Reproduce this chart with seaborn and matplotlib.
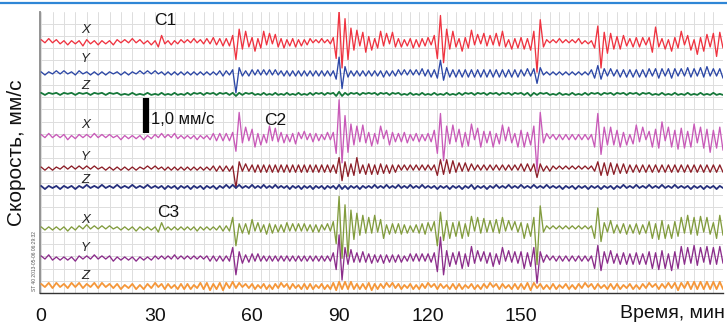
import numpy as np
import pandas as pd
import matplotlib
matplotlib.use("Agg")
import matplotlib.pyplot as plt
from matplotlib.ticker import MultipleLocator, NullFormatter
from matplotlib.lines import Line2D
import seaborn as sns

sns.set_style("white")
plt.rcParams["font.family"] = ["Liberation Sans", "DejaVu Sans"]

# амплитуды колебаний, одно значение на минуту (0..213 мин),
# код base-36, единица = 0.03 мм/с, знак чередуется от минуты к минуте
c1_x = "".join([
    "2131221312", "1422131213", "2121312213", "1562131221", "2131223243",
    "34346hc7a5", "4936a38275", "3624352423", "312131224g", "upmhd8b49a",
    "5836a48295", "3524362534", "436gpkc7a5", "3946b37284", "6384a52736",
    "4738atl521", "2131212132", "1216fp9b87", "5764354543", "4ae5372946",
    "a3682c4975", "8e96"])
c1_y = "".join([
    "1211212112", "2112121211", "1212112121", "2112121212", "1212121212",
    "23223j5323", "3232323232", "2323232323", "2323232326", "ff64232323",
    "2323242323", "3232323243", "3435c75434", "3434343434", "3434343434",
    "33434a5212", "1212121212", "1235764343", "3434343434", "4345434543",
    "4354435463", "4345"])
c1_z = "".join([
    "1110111011", "1011101110", "1101110111", "0111011101", "1110111011",
    "1011121110", "1101110111", "0111011101", "1110111012", "2211101110",
    "1011101110", "1101110111", "0111011101", "1110111011", "1011101110",
    "1112111011", "0111011101", "1110111011", "1011101110", "1101110111",
    "0111011101", "1101"])
c2_x = "".join([
    "2131212312", "2121312121", "1312121312", "2131213212", "1213121334",
    "34344en694", "7a3826a485", "4625374253", "353423434g", "zpkfc8a5b6",
    "4937a26845", "3546243524", "356gmna7b5", "7a49c38a56", "5a37b4963a",
    "6a48axn632", "2323232323", "232amh9898", "6a4827b593", "5a7be49a6c",
    "8b5ac69b7f", "6b9d"])
c2_y = "".join([
    "1212112121", "2121211212", "1212121121", "2112121212", "1212121223",
    "23232j6343", "3434343434", "3434343434", "3434343435", "ac6847a536",
    "4636453534", "3232323232", "3237868574", "5353423232", "3232323232",
    "4343494323", "2121212121", "2123675756", "4545343434", "3434343434",
    "3434343434", "3434"])
c2_z = "".join([
    "1211121112", "1121112111", "2111211121", "1112111211", "1211121112",
    "1121212111", "2111211121", "1112111211", "1211121112", "2212111211",
    "1121112111", "2111211121", "1112111211", "1211221112", "1121112111",
    "2111211121", "1112111211", "1211121112", "1121112111", "2111211121",
    "1112111211", "1211"])
c3_x = "".join([
    "1212121312", "2131212121", "1212131212", "1452121212", "1213121212",
    "2323ah4546", "8354364534", "3453434343", "343432436f", "utmrhbe7c5",
    "a5c48a3645", "4635243546", "536hfc7a58", "6a48b3a594", "7485a37264",
    "5a48azl421", "2121212121", "212ajd5475", "3546354635", "6a4b7a3a68",
    "a5c6a7b4a6", "5ac7"])
c3_y = "".join([
    "2132121213", "2121312123", "1212131212", "2121213121", "2121212323",
    "2323ag6534", "4343232323", "2323232323", "232323235b", "mla6845464",
    "4534353434", "3423434343", "445dkg7856", "6a48b57365", "5846a37465",
    "6a58ao6432", "2323232323", "232acc6575", "4656465646", "6a5b7a4c6a",
    "b6a5c7a4b6", "a6b5"])
c3_z = "".join([
    "2132312231", "3221323122", "2312231322", "3123221323", "2312333423",
    "3432423122", "2312231322", "3123221323", "2312231334", "4343432323",
    "3423223132", "2312231322", "3123221323", "2312231322", "3123221323",
    "2334322313", "2312231322", "3123221323", "2312231322", "3123223234",
    "3243434343", "4343"])

traces = [c1_x, c1_y, c1_z, c2_x, c2_y, c2_z, c3_x, c3_y, c3_z]
names = ["C1 X", "C1 Y", "C1 Z", "C2 X", "C2 Y", "C2 Z", "C3 X", "C3 Y", "C3 Z"]
components = ["X", "Y", "Z"] * 3
baselines = [7.18, 6.29, 5.69, 4.47, 3.57, 3.03, 1.86, 1.00, 0.20]
label_y = [7.51, 6.69, 5.91, 4.80, 3.89, 3.23, 2.09, 1.29, 0.49]
colors = ["#ef3340", "#2c47a6", "#16783a", "#c85ab8", "#8c1f28",
          "#26307c", "#829c3e", "#8b2d8b", "#f5973a"]
amp_unit = 0.03  # мм/с

tick_minutes = [0, 30, 60, 90, 120, 150, 180]
tick_labels = ["0", "30", "60", "90", "120", "150", ""]

frames = []
for name, codes, base in zip(names, traces, baselines):
    amp = np.array([int(c, 36) for c in codes]) * amp_unit
    t = np.arange(len(codes))
    sign = np.where(t % 2 == 0, 1.0, -1.0)
    frames.append(pd.DataFrame({"t": t, "v": base + sign * amp, "trace": name}))
df = pd.concat(frames, ignore_index=True)

# шкала времени на оригинале неравномерная
knots_min = [-20, 0, 30, 60, 90, 120, 150, 180, 213, 260]
knots_px = [-35, 41, 155, 252, 339, 428, 521, 617, 723, 873]

def fwd(x):
    return np.interp(x, knots_min, knots_px)

def inv(p):
    return np.interp(p, knots_px, knots_min)

fig = plt.figure(figsize=(7.27, 3.25), dpi=100)
ax = fig.add_axes([40 / 727, 32 / 325, 683 / 727, 281 / 325])
ax.set_xscale("function", functions=(fwd, inv))

for name, col, comp in zip(names, colors, components):
    lw = 1.3 if comp == "Z" else 0.95
    sns.lineplot(data=df[df["trace"] == name], x="t", y="v", color=col,
                 linewidth=lw, estimator=None, sort=False, ax=ax, zorder=3)

ax.set_xlim(-0.3, 213)
ax.set_ylim(0, 8.03)

ax.set_xticks(tick_minutes, labels=tick_labels)
ax.xaxis.set_minor_locator(MultipleLocator(3))
ax.xaxis.set_minor_formatter(NullFormatter())
ax.yaxis.set_major_locator(MultipleLocator(0.35))
ax.set_yticklabels([])
ax.tick_params(axis="y", length=0)
ax.tick_params(axis="x", which="major", direction="out", length=9, width=1.8,
               color="#222222", labelsize=14, pad=2, labelcolor="#111111")
ax.tick_params(axis="x", which="minor", direction="out", length=3, width=0.8,
               color="#444444")
ax.grid(True, which="both", color="#dddddd", linewidth=0.7, zorder=0)
ax.grid(False, which="minor", axis="y")

for side in ["top", "right"]:
    ax.spines[side].set_visible(False)
ax.spines["left"].set_color("#8a8a8a")
ax.spines["left"].set_linewidth(1.3)
ax.spines["bottom"].set_color("#333333")
ax.spines["bottom"].set_linewidth(1.0)

ax.set_xlabel("")
ax.set_ylabel("Скорость, мм/с", fontsize=15, color="#111111")
ax.yaxis.set_label_coords(-0.02, 0.5)

for comp, ly in zip(components, label_y):
    ax.text(11.6, ly, comp, fontsize=9.5, style="italic", color="#222222",
            ha="center", va="center", zorder=4)

ax.text(33.1, 7.8, "C1", fontsize=12.5, color="#111111", ha="center", va="center")
ax.text(67.9, 4.94, "C2", fontsize=12.5, color="#111111", ha="center", va="center")
ax.text(34.0, 2.29, "C3", fontsize=12.5, color="#111111", ha="center", va="center")

# масштабная линейка 1,0 мм/с
ax.plot([27.6, 27.6], [4.57, 5.57], color="black", linewidth=4.5,
        solid_capstyle="butt", zorder=4)
ax.text(28.9, 4.97, "1,0 мм/с", fontsize=12, color="#111111", ha="left",
        va="center", zorder=4)

fig.text(725 / 727, 1 - 313 / 325, "Время, мин", fontsize=14, color="#111111",
         ha="right", va="center")
fig.text(35 / 727, 1 - 291 / 325, "ST 40 2013-05-06 06:29:32", fontsize=3.5,
         color="#555555", rotation=90, ha="center", va="bottom")
fig.add_artist(Line2D([0, 1], [1 - 2.5 / 325, 1 - 2.5 / 325], color="#2f86d6",
                      linewidth=1.6, transform=fig.transFigure))

fig.savefig("out.png", dpi=100)
